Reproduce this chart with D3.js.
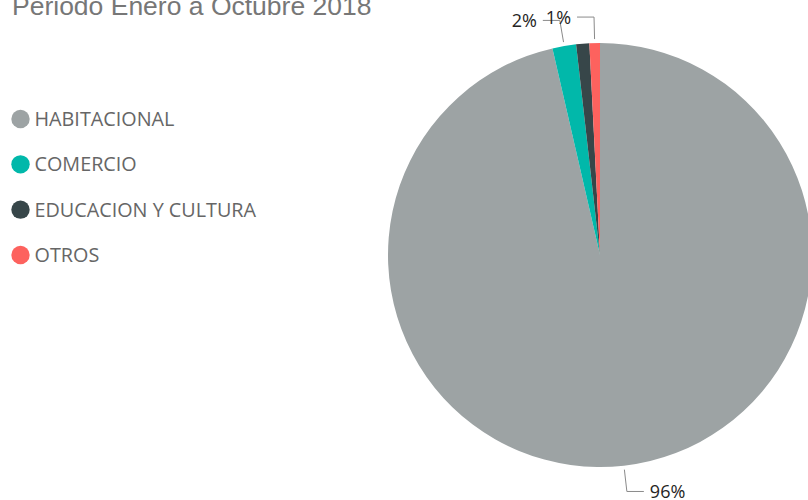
<!DOCTYPE html>
<html>
<head>
<meta charset="utf-8">
<script src="https://cdn.jsdelivr.net/npm/d3@7"></script>
<style>
  html, body { margin: 0; padding: 0; background: #fff; }
  svg { display: block; }
</style>
</head>
<body>
<svg id="chart" width="808" height="500"></svg>
<script>
// Licencias por uso de suelo, periodo enero–octubre 2018 (porcentaje)
const categories = ["HABITACIONAL", "COMERCIO", "EDUCACION Y CULTURA", "OTROS"];
const values = [96.4, 1.8, 1.0, 0.8];
const colors = ["#9DA3A4", "#01B8AA", "#374649", "#FD625E"];
// Etiquetas visibles en el gráfico (la de EDUCACION Y CULTURA queda oculta)
const shownLabels = ["HABITACIONAL", "COMERCIO", "OTROS"];
const title = "Periodo Enero a Octubre 2018";

const svg = d3.select("#chart");

// Título
svg.append("text")
  .attr("x", 12).attr("y", 15)
  .attr("font-family", "Liberation Sans, Arial, sans-serif")
  .attr("font-size", 26.5)
  .attr("fill", "#777777")
  .text(title);

// Leyenda
const legendY = d3.scalePoint().domain(categories).range([119, 255]);
const colorScale = d3.scaleOrdinal().domain(categories).range(colors);
const items = svg.append("g").selectAll("g.item").data(categories).enter().append("g")
  .attr("class", "item")
  .attr("transform", d => `translate(0,${legendY(d)})`);
items.append("circle").attr("cx", 20.5).attr("cy", 0).attr("r", 9.2)
  .attr("fill", d => colorScale(d));
items.append("text").attr("x", 34.5).attr("y", 0).attr("dy", "0.36em")
  .attr("font-family", "Open Sans, sans-serif")
  .attr("font-size", 19.8)
  .attr("fill", "#666666")
  .text(d => d);

// Pastel
const cx = 600, cy = 255, r = 212;
const data = categories.map((c, i) => ({ cat: c, value: values[i] }));
const pie = d3.pie().sort(null).value(d => d.value);
const arcs = pie(data);
const arc = d3.arc().innerRadius(0).outerRadius(r);
const g = svg.append("g").attr("transform", `translate(${cx},${cy})`);
g.selectAll("path").data(arcs).enter().append("path")
  .attr("d", arc)
  .attr("fill", d => colorScale(d.data.cat));

// Etiquetas con líneas guía
const total = d3.sum(values);
const fmt = v => Math.round(v / total * 100) + "%";
const r1 = r + 4, r2 = r + 26, hLen = 17;
const labeled = arcs.filter(d => shownLabels.includes(d.data.cat));
labeled.forEach(d => {
  const a = (d.startAngle + d.endAngle) / 2;
  const p1 = [Math.sin(a) * r1, -Math.cos(a) * r1];
  const p2 = [Math.sin(a) * r2, -Math.cos(a) * r2];
  const side = Math.sin(a) >= 0 ? 1 : -1;
  const p3 = [p2[0] + side * hLen, p2[1]];
  g.append("polyline")
    .attr("points", [p1, p2, p3].map(p => p.join(",")).join(" "))
    .attr("fill", "none")
    .attr("stroke", "#8a8a8a")
    .attr("stroke-width", 1);
  g.append("text")
    .attr("x", p3[0] + side * 6)
    .attr("y", p3[1])
    .attr("dy", "0.36em")
    .attr("text-anchor", side > 0 ? "start" : "end")
    .attr("font-family", "Open Sans, sans-serif")
    .attr("font-size", 18)
    .attr("fill", "#252423")
    .text(fmt(d.value));
});
</script>
</body>
</html>
